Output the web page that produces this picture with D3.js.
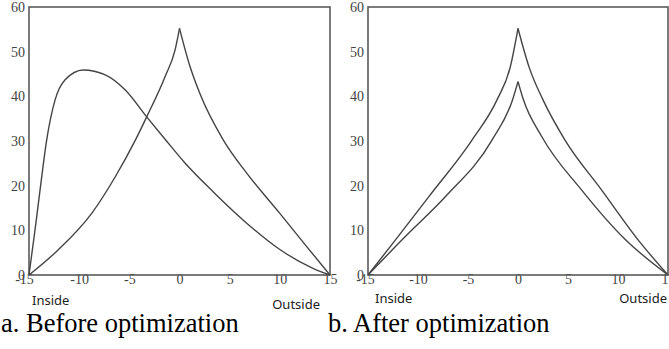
<!DOCTYPE html>
<html>
<head>
<meta charset="utf-8">
<script src="https://cdn.jsdelivr.net/npm/d3@7"></script>
<style>
	html,body{margin:0;padding:0;background:#fff;}
	svg{display:block;}
</style>
</head>
<body>
<div id="chart"></div>
<script>
// x ticks / y ticks
var xTicks=[-15,-10,-5,0,5,10,15];
var yTicks=[0,10,20,30,40,50,60];

// a. before optimization : cusp curve (two branches) + hump curve
var aPeakLeft=[[-15,0],[-12.1,5.6],[-8.75,13.8],[-6.4,22.0],[-4.4,30.2],[-3.27,35.4],[-1.44,44.4],[-0.44,50.4],[0,55.2]];
var aPeakRight=[[0,55.2],[1.0,47.0],[2.05,40.5],[4.37,30.2],[6.7,22.8],[10,13.8],[12.7,6.3],[15,0]];
var aHump=[[-15,0],[-14.4,10.1],[-13.9,19],[-13.24,30.2],[-12.4,39.2],[-11.4,43.7],[-9.6,45.9],[-7.4,44.8],[-5.4,41.4],[-3.27,35.4],[-1.44,30.4],[0.5,25.2],[3.37,18.6],[6.7,11.6],[10,5.7],[13.3,1.5],[15,0]];

// b. after optimization : two cusp curves
var bOuterLeft=[[-15,0],[-12.27,7.8],[-8.93,17.5],[-4.6,30.2],[-2.1,39.2],[-0.77,46.6],[0,55.2]];
var bOuterRight=[[0,55.2],[1.1,46.6],[2.5,39.2],[4.7,30.2],[8.37,19],[12.03,7.8],[15,0]];
var bInnerLeft=[[-15,0],[-11.27,8.6],[-7.27,17.5],[-2.6,30.2],[-0.55,39.2],[0,43.3]];
var bInnerRight=[[0,43.3],[0.5,39.5],[2.37,31.0],[6.37,19],[10.7,8.0],[15,0]];

var W=669,H=349;
var svg=d3.select('#chart').append('svg')
	.attr('width',W).attr('height',H)
	.attr('xmlns','http://www.w3.org/2000/svg');

function panel(o){
	var x=d3.scaleLinear().domain([-15,15]).range([o.left,o.right]),
		y=d3.scaleLinear().domain([0,60]).range([275,7]),
		g=svg.append('g'),
		serif='"Liberation Serif","Times New Roman",serif';

	// x axis labels (plain hyphen, not unicode minus)
	var gx=g.append('g').attr('transform','translate(0,275)')
		.call(d3.axisBottom(x).tickValues(xTicks).tickSize(0).tickPadding(-1)
			.tickFormat(function(d){return String(d)}));
	gx.select('.domain').remove();
	gx.selectAll('text').attr('fill','#444')
		.style('font-family',serif).style('font-size','14px')
		.attr('dx',function(d){return d==-15?o.firstDx:0});

	// y axis labels
	var gy=g.append('g').attr('transform','translate('+o.left+',0)')
		.call(d3.axisLeft(y).tickValues(yTicks).tickSize(0).tickPadding(4)
			.tickFormat(function(d){return String(d)}));
	gy.select('.domain').remove();
	gy.selectAll('text').attr('fill','#444')
		.style('font-family',serif).style('font-size','14px');

	// frame
	g.append('rect').attr('x',o.left).attr('y',7)
		.attr('width',o.right-o.left).attr('height',268)
		.attr('fill','none').attr('stroke','#5a5a5a').attr('stroke-width',1.6);

	var line=d3.line().x(function(d){return x(d[0])}).y(function(d){return y(d[1])})
		.curve(d3.curveMonotoneX);
	o.curves.forEach(function(c){
		g.append('path').attr('d',line(c))
			.attr('fill','none').attr('stroke','#444').attr('stroke-width',1.4);
	});

	// inside / outside
	g.append('text').text('Inside').attr('x',o.inside[0]).attr('y',o.inside[1])
		.attr('font-family','"Noto Sans",sans-serif').attr('font-size',13).attr('fill','#222');
	g.append('text').text('Outside').attr('x',o.outside[0]).attr('y',o.outside[1])
		.attr('text-anchor','end')
		.attr('font-family','"Noto Sans",sans-serif').attr('font-size',13).attr('fill','#222');

	// caption
	svg.append('text').text(o.caption).attr('x',o.capX).attr('y',332)
		.attr('font-family',serif)
		.attr('font-size',26.5).attr('fill','#000');
}

panel({
	left:29,right:330,firstDx:-5,
	curves:[aPeakLeft,aPeakRight,aHump],
	inside:[32,305],outside:[320,309],
	caption:'a. Before optimization',capX:1
});
panel({
	left:368,right:668,firstDx:-3,
	curves:[bOuterLeft,bOuterRight,bInnerLeft,bInnerRight],
	inside:[375,303],outside:[667,303],
	caption:'b. After optimization',capX:328
});
</script>
</body>
</html>
